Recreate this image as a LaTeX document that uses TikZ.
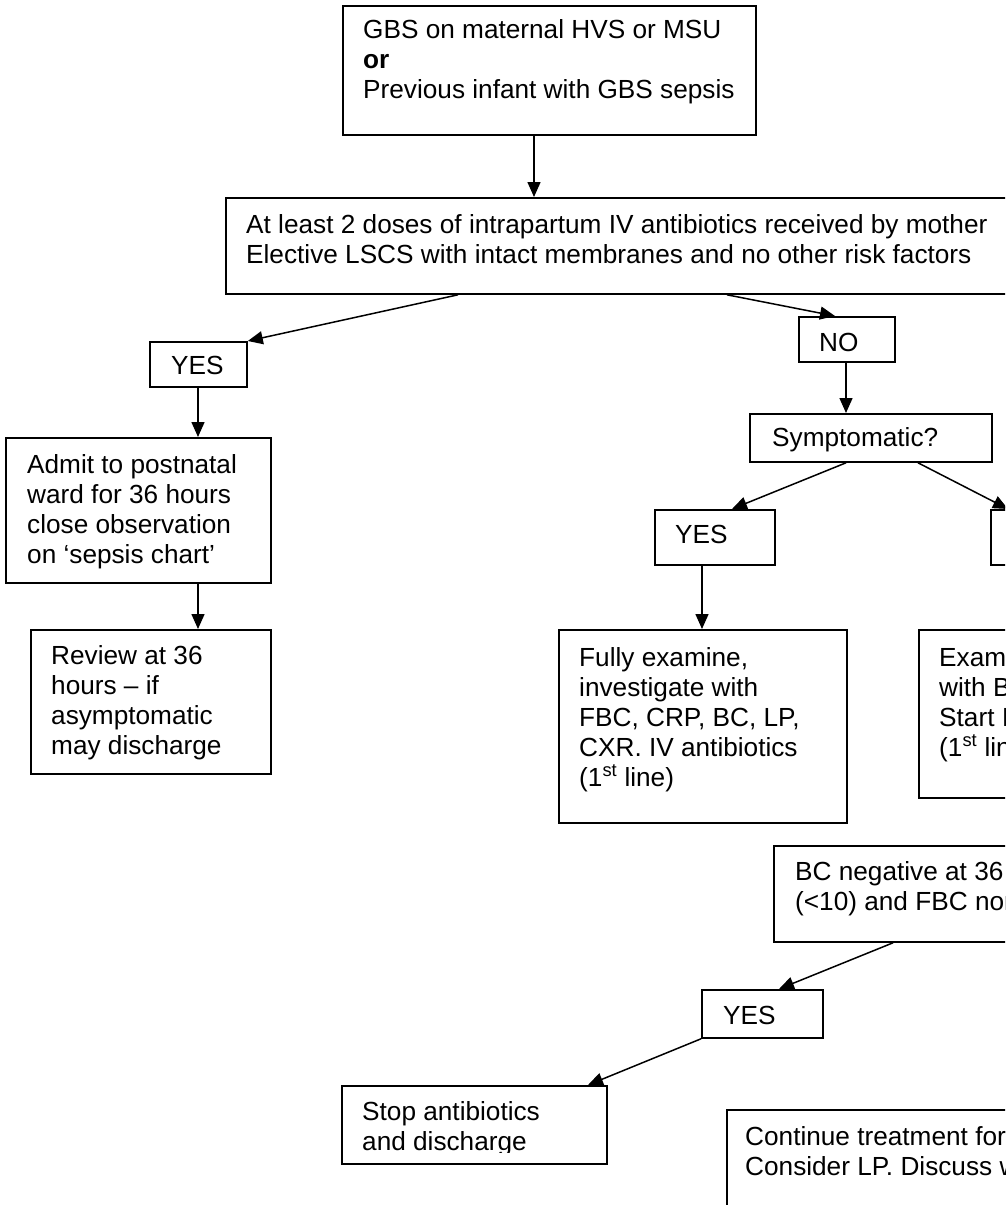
\documentclass[tikz,border=0pt]{standalone}
\usepackage{fontspec}
\setmainfont{Liberation Sans}
\usetikzlibrary{arrows.meta}
\newcommand{\flowsize}{\fontsize{26.2pt}{30pt}\selectfont}
\newcommand{\flowtext}[1]{\parbox[t]{900pt}{\flowsize\raggedright #1}}
\begin{document}
\begin{tikzpicture}[x=1pt,y=-1pt,
  flowbox/.style={draw, line width=1.8pt, rectangle, inner sep=0pt, anchor=north west, fill=white},
  flowlabel/.style={inner sep=0pt, anchor=base west},
  flowarrow/.style={line width=1.5pt, -{Triangle[length=15pt,width=13pt]}}]
\clip (0,0) rectangle (1005,1205);
\fill[white] (0,0) rectangle (1005,1205);

% boxes (top-left corner, size in pt)
\node[flowbox, minimum width=413pt, minimum height=129pt] (b1) at (342,5) {};
\node[flowbox, minimum width=815pt, minimum height=96pt] (b2) at (225,197) {};
\node[flowbox, minimum width=97pt, minimum height=45pt] (yes1) at (149,341) {};
\node[flowbox, minimum width=96pt, minimum height=45pt] (no1) at (798,316) {};
\node[flowbox, minimum width=242pt, minimum height=48pt] (symp) at (749,413) {};
\node[flowbox, minimum width=120pt, minimum height=55pt] (yes2) at (654,509) {};
\node[flowbox, minimum width=120pt, minimum height=55pt] (no2) at (990,509) {};
\node[flowbox, minimum width=265pt, minimum height=145pt] (admit) at (5,437) {};
\node[flowbox, minimum width=240pt, minimum height=144pt] (review) at (30,629) {};
\node[flowbox, minimum width=288pt, minimum height=193pt] (fully) at (558,629) {};
\node[flowbox, minimum width=288pt, minimum height=168pt] (exam) at (918,629) {};
\node[flowbox, minimum width=327pt, minimum height=96pt] (bc) at (773,845) {};
\node[flowbox, minimum width=121pt, minimum height=48pt] (yes3) at (701,989) {};
\node[flowbox, minimum width=265pt, minimum height=78pt] (stop) at (341,1085) {};
\node[flowbox, minimum width=374pt, minimum height=151pt] (cont) at (726,1109) {};

% box texts, placed at the first baseline
\node[flowlabel] (t1) at (363,38) {\flowtext{GBS on maternal HVS or MSU\\\textbf{or}\\Previous infant with GBS sepsis}};
\node[flowlabel] (t2) at (246,233) {\flowtext{At least 2 doses of intrapartum IV antibiotics received by mother\\Elective LSCS with intact membranes and no other risk factors}};
\node[flowlabel] (tyes1) at (171,374) {\flowtext{YES}};
\node[flowlabel] (tno1) at (819,351) {\flowtext{NO}};
\node[flowlabel] (tsymp) at (772,446) {\flowtext{Symptomatic?}};
\node[flowlabel] (tyes2) at (675,543) {\flowtext{YES}};
\node[flowlabel] (tadmit) at (27,473) {\flowtext{Admit to postnatal\\ward for 36 hours\\close observation\\on ‘sepsis chart’}};
\node[flowlabel] (treview) at (51,664) {\flowtext{Review at 36\\hours – if\\asymptomatic\\may discharge}};
\node[flowlabel] (tfully) at (579,666) {\flowtext{Fully examine,\\investigate with\\FBC, CRP, BC, LP,\\CXR. IV antibiotics\\(1\textsuperscript{st} line)}};
\node[flowlabel] (texam) at (939,666) {\flowtext{Examine, investigate\\with BC, CRP, FBC.\\Start IV antibiotics\\(1\textsuperscript{st} line)}};
\node[flowlabel] (tbc) at (795,880) {\flowtext{BC negative at 36 hours, CRP\\(<10) and FBC normal?}};
\node[flowlabel] (tyes3) at (723,1024) {\flowtext{YES}};
\begin{scope}
  \clip (341,1085) rectangle (606,1152);
  \node[flowlabel] (tstop) at (362,1120) {\flowtext{Stop antibiotics\\and discharge}};
\end{scope}
\node[flowlabel] (tcont) at (745,1145) {\flowtext{Continue treatment for 7 days\\Consider LP. Discuss with consultant}};

% connectors
\draw[flowarrow] ([xshift=192pt]b1.south west) -- ([xshift=309pt]b2.north west);
\draw[flowarrow] ([xshift=233pt]b2.south west) -- (yes1.north east);
\draw[flowarrow] ([xshift=502pt]b2.south west) -- ([xshift=37pt]no1.north west);
\draw[flowarrow] ([xshift=49pt]yes1.south west) -- ([xshift=193pt]admit.north west);
\draw[flowarrow] ([xshift=193pt]admit.south west) -- ([xshift=168pt]review.north west);
\draw[flowarrow] ([xshift=48pt]no1.south west) -- ([xshift=97pt]symp.north west);
\draw[flowarrow] ([xshift=97pt]symp.south west) -- ([xshift=78pt]yes2.north west);
\draw[flowarrow] ([xshift=169pt]symp.south west) -- ([xshift=18pt]no2.north west);
\draw[flowarrow] ([xshift=48pt]yes2.south west) -- ([xshift=144pt]fully.north west);
\draw[flowarrow] ([xshift=120pt]bc.south west) -- ([xshift=78pt]yes3.north west);
\draw[flowarrow] (yes3.south west) -- ([xshift=247pt]stop.north west);
\end{tikzpicture}
\end{document}
